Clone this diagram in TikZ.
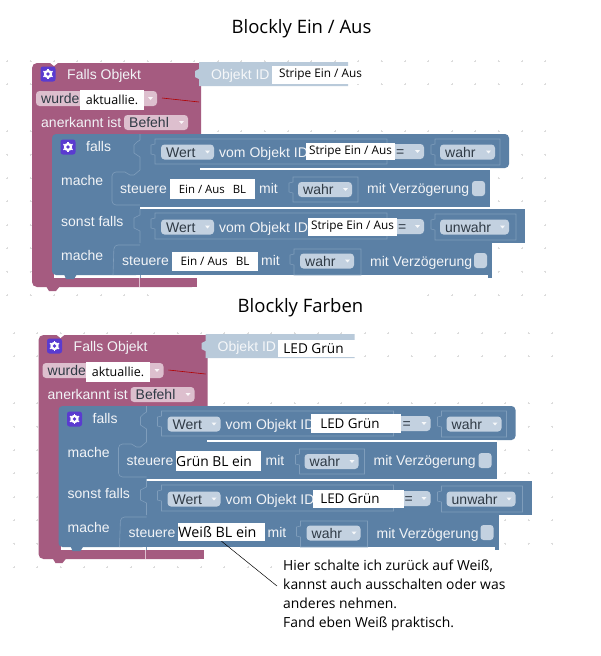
\documentclass[tikz,border=0pt]{standalone}
\usepackage{fontspec}
\setmainfont{Liberation Sans}
\newfontfamily\notefont{Open Sans}
\definecolor{bpink}{HTML}{A55B80}
\definecolor{bblue}{HTML}{5B80A5}
\definecolor{blight}{HTML}{7F9DBB}
\definecolor{pillb}{HTML}{C3D1E0}
\definecolor{pillp}{HTML}{DDBFCE}
\definecolor{idblue}{HTML}{B9CADA}
\definecolor{gridc}{HTML}{DCDCDC}
\definecolor{txtd}{HTML}{2F3A45}
\definecolor{txtl}{HTML}{F2F4F7}
\definecolor{iconc}{HTML}{5A3BD0}
\tikzset{
  blocktxt/.style={anchor=mid west,inner sep=0pt,yshift=-2.5pt,text=txtl,font=\fontsize{14}{16}\selectfont},
  pilltxt/.style={anchor=mid west,inner sep=0pt,yshift=-2.5pt,text=txtd,font=\fontsize{14}{16}\selectfont},
  whitebox/.style={fill=white,draw=none,inner sep=0pt,text=black},
  inset/.style={draw=blight,line width=0.6pt},
  titletxt/.style={inner sep=0pt,font=\notefont\fontsize{18.5}{22}\selectfont,text=black},
}
\newcommand\wfont[1]{\notefont\fontsize{#1}{#1}\selectfont}
\newcommand\rpad[1]{\rule{#1}{0pt}}
\newcount\nodecnt
\newcommand\lbl[4][blocktxt]{\global\advance\nodecnt by 1 \node[#1] (lbl\the\nodecnt) at (#2,#3) {#4};}
\newcommand\pill[5]{%
  \fill[#5,rounded corners=3.5pt] (#1,#3-7.5) rectangle (#2,#3+7.5);
  \fill[white!85!#5] (#2-9,#3-1.5) -- (#2-4,#3-1.5) -- (#2-6.5,#3+1.5) -- cycle;
  \lbl[pilltxt]{#1+5}{#3}{#4}}
\newcommand\outl[4]{\draw[inset] (#1,#2) -- (#1,#2+5) -- (#1-4,#2+6) -- (#1-4,#2+15) -- (#1,#2+16) -- (#1,#4) -- (#3,#4) -- (#3,#2) -- cycle;}
\newcommand\chk[3]{\fill[pillb,rounded corners=3pt] (#1,#2) rectangle (#3,#2+15);}
\newcommand\cube[2]{%
  \fill[iconc,rounded corners=2.5pt] (#1-7.5,#2-7.5) rectangle (#1+7.5,#2+7.5);
  \fill[white] (#1,#2) circle (4.2pt);
  \foreach \a in {30,90,...,330} {\draw[white,line width=1.4pt] (#1,#2) ++(\a:3.5pt) -- ++(\a:1.8pt);}
  \fill[iconc] (#1,#2) circle (1.9pt);}
\newcommand\blk{%
  \fill[bpink,rounded corners=5pt] (32,63) -- (201,63) -- (201,140) -- (60,140) -- (60,277) -- (197,277) -- (197,287) -- (32,287) -- cycle;
  \fill[bpink] (180,63) rectangle (201,80);
  \fill[bpink] (180,277) rectangle (197,287);
  \fill[bpink] (46,286) -- (49,291) -- (56,291) -- (60,286) -- cycle;
  \fill[white] (49,62) -- (59,62) -- (54,66) -- cycle;
  \draw[pillp,line width=0.7pt] (139,277) -- (139,287);
  \fill[bpink] (50,200) rectangle (60,280);
  \fill[white] (54,272) rectangle (240,277.5);
  \fill[bblue,rounded corners=4pt] (52,134) -- (509,134) -- (509,168) -- (140,168) -- (140,275) -- (52,275) -- cycle;
  \fill[bblue] (110,168) rectangle (490,207);
  \fill[bblue] (56,209) rectangle (525,243);
  \fill[bblue] (100,243) rectangle (492,275);
  \fill[bblue] (488,270) rectangle (492,278);
  \fill[white] (200,168) rectangle (490,170);
  \fill[white] (140,207) rectangle (490,209);
  \fill[bblue] (64,274) -- (66,279) -- (74,279) -- (77,274) -- cycle;
  \draw[inset] (140,134) -- (140,140) -- (137,142) -- (134,145) -- (134,153) -- (137,155) -- (140,157) -- (140,170);
  \draw[inset] (140,209) -- (140,215) -- (134,218) -- (134,228) -- (140,231) -- (140,243);
  \draw[inset] (118,172) -- (125,172) -- (130,175) -- (134,175) -- (140,170);
  \draw[inset,rounded corners=4pt] (118,172) -- (112,172) -- (112,205) -- (125,205) -- (140,205);
  \draw[inset,rounded corners=4pt] (140,245) -- (114,245) -- (113,275);
  \draw[inset] (140,275) -- (140,278);
  \fill[idblue] (199,62) -- (348,62) -- (348,86) -- (199,86) -- (199,79) -- (195,77) -- (195,71) -- (199,69) -- cycle;
  \lbl[blocktxt,text=white!85!idblue]{211}{74}{Objekt ID}
  \cube{48}{74}
  \lbl{67}{74}{Falls Objekt}
  \pill{36}{157}{98.5}{wurde}{pillp}
  \draw[red!70!black,line width=0.6pt] (162,98) -- (199,102);
  \lbl{41}{122}{anerkannt ist}
  \pill{124}{188}{122.5}{Befehl}{pillp}
  \cube{68}{147}
  \lbl{86}{146}{falls}
  \outl{155}{139}{387}{164}
  \outl{435}{139}{500}{165}
  \pill{161}{214}{152}{Wert}{pillb}
  \lbl{219}{152}{vom Objekt ID}
  \pill{391}{424}{151.5}{=}{pillb}
  \pill{440}{495}{152}{wahr}{pillb}
  \lbl{61}{180}{mache}
  \lbl{120}{188}{steuere}
  \lbl{259}{188}{mit}
  \outl{293}{177}{358}{202}
  \pill{298}{352}{189.5}{wahr}{pillb}
  \lbl{367}{188}{mit Verzögerung}
  \chk{472}{181}{485}
  \lbl{61}{221}{sonst falls}
  \outl{155}{213}{387}{239}
  \outl{435}{214}{516}{240}
  \pill{161}{214}{227}{Wert}{pillb}
  \lbl{219}{227}{vom Objekt ID}
  \pill{393}{424}{226.5}{=}{pillb}
  \pill{440}{509}{227}{unwahr}{pillb}
  \lbl{61}{255}{mache}
  \lbl{122}{260}{steuere}
  \lbl{261}{260}{mit}
  \outl{294}{249}{361}{275}
  \pill{300}{354}{261}{wahr}{pillb}
  \lbl{370}{261}{mit Verzögerung}
  \chk{474}{253}{487}
}
\begin{document}
\begin{tikzpicture}[x=1pt,y=-1pt]
\useasboundingbox (0,0) rectangle (600,656);
\fill[white] (0,0) rectangle (600,656);
\foreach \i in {0,...,11} \foreach \j in {0,1,3,4,...,10} {
  \pgfmathsetmacro\gx{288+\i*23.4}
  \pgfmathsetmacro\gy{61+\j*23.4}
  \draw[gridc,line width=0.35pt] (\gx-1,\gy) -- (\gx+1,\gy) (\gx,\gy-1) -- (\gx,\gy+1);
  \pgfmathsetmacro\hx{288-(\i+1)*23.4}
  \draw[gridc,line width=0.35pt] (\hx-1,\gy) -- (\hx+1,\gy) (\hx,\gy-1) -- (\hx,\gy+1);
  \draw[gridc,line width=0.35pt,shift={(6.5,272)}] (\gx-1,\gy) -- (\gx+1,\gy) (\gx,\gy-1) -- (\gx,\gy+1);
  \draw[gridc,line width=0.35pt,shift={(6.5,272)}] (\hx-1,\gy) -- (\hx+1,\gy) (\hx,\gy-1) -- (\hx,\gy+1);
}
\fill[white] (150,10) rectangle (420,50);
\fill[white] (150,292) rectangle (420,325);
\fill[white] (275,560) rectangle (600,640);
\fill[white] (0,640) rectangle (600,656);

\node[titletxt] (title1) at (301.5,29) {Blockly Ein / Aus};
\node[titletxt] (title2) at (300.5,307.5) {Blockly Farben};

\begin{scope}\blk\end{scope}
\begin{scope}[shift={(6.5,272)}]\blk\end{scope}

\node[whitebox,minimum width=90,minimum height=18,font=\wfont{11.8}] (a1) at (317,74.5) {\rpad{7pt}Stripe Ein / Aus};
\node[whitebox,minimum width=64,minimum height=20,font=\wfont{12.5}] (a2) at (112,100) {aktuallie.};
\node[whitebox,minimum width=89,minimum height=17,font=\wfont{11.8}] (a3) at (350.5,151.5) {Stripe Ein / Aus};
\node[whitebox,minimum width=85,minimum height=20,font=\wfont{11.4}] (a4) at (212.5,189) {Ein / Aus\hspace{5pt} BL};
\node[whitebox,minimum width=89,minimum height=18,font=\wfont{11.8}] (a5) at (352.5,226.5) {Stripe Ein / Aus};
\node[whitebox,minimum width=86,minimum height=19,font=\wfont{11.7}] (a6) at (215,261) {Ein / Aus\hspace{5pt} BL};

\node[whitebox,minimum width=78,minimum height=17,font=\wfont{13.6}] (b1) at (317,348.5) {LED Grün\rpad{7pt}};
\node[whitebox,minimum width=64,minimum height=20,font=\wfont{12.5}] (b2) at (118,372) {aktuallie.};
\node[whitebox,minimum width=90,minimum height=19,font=\wfont{13.4}] (b3) at (356,423.5) {LED Grün\rpad{12pt}};
\node[whitebox,minimum width=85,minimum height=20,font=\wfont{13.8}] (b4) at (218.5,461) {Grün BL ein\rpad{9pt}};
\node[whitebox,minimum width=91,minimum height=18,font=\wfont{13.4}] (b5) at (358.5,499) {LED Grün\rpad{17pt}};
\node[whitebox,minimum width=87,minimum height=18,font=\wfont{14.3}] (b6) at (221.5,532) {Weiß BL ein\rpad{8pt}};

\node[anchor=north west,inner sep=0pt,align=left,text=black,font=\notefont\fontsize{13.9}{19}\selectfont] (note) at (283,560) {Hier schalte ich zurück auf Weiß,\\kannst auch ausschalten oder was\\anderes nehmen.\\Fand eben Weiß praktisch.};
\coordinate (leadend) at (277,586);
\draw[black,line width=0.5pt] (b6.south) -- (leadend);
\end{tikzpicture}
\end{document}
